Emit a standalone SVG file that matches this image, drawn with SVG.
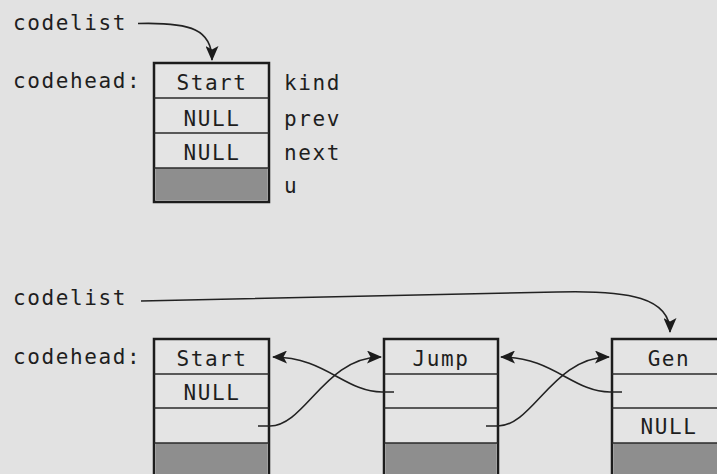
<svg xmlns="http://www.w3.org/2000/svg" width="717" height="474" viewBox="0 0 717 474">
<defs>
<style>
text{font-family:"DejaVu Sans Mono","Liberation Mono",monospace;font-size:21px;letter-spacing:1.6px;fill:#1e1e1e}
.c{text-anchor:middle}
.box{fill:#e4e4e4;stroke:#1c1c1c;stroke-width:2.5}
.row{stroke:#2a2a2a;stroke-width:1.4;fill:none}
.u{fill:#8e8e8e;stroke:none}
.con{fill:none;stroke:#222;stroke-width:1.6}
</style>
<marker id="ah" viewBox="0 0 15 13" refX="14" refY="6.5" markerWidth="15" markerHeight="13" markerUnits="userSpaceOnUse" orient="auto">
<path d="M0,0 L15,6.5 L0,13 L3.5,6.5 Z" fill="#1c1c1c"/>
</marker>
</defs>
<rect width="717" height="474" fill="#e2e2e2"/>

<g id="top-labels">
<text x="13" y="30">codelist</text>
<text x="13" y="88">codehead:</text>
<text x="284" y="90">kind</text>
<text x="284" y="126">prev</text>
<text x="284" y="160">next</text>
<text x="284" y="193">u</text>
</g>

<g id="node-top-start">
<rect class="box" x="154" y="63" width="115" height="139"/>
<rect class="u" x="155.5" y="168" width="112" height="32.5"/>
<path class="row" d="M154,98H269M154,133H269M154,168H269"/>
<text class="c" x="212" y="90">Start</text>
<text class="c" x="212" y="126">NULL</text>
<text class="c" x="212" y="160">NULL</text>
</g>

<g id="bottom-labels">
<text x="13" y="305">codelist</text>
<text x="13" y="364">codehead:</text>
</g>

<g id="node-start">
<rect class="box" x="154" y="339" width="115" height="150"/>
<rect class="u" x="155.5" y="443" width="112" height="45"/>
<path class="row" d="M154,374H269M154,408H269M154,443H269"/>
<text class="c" x="212" y="366">Start</text>
<text class="c" x="212" y="400">NULL</text>
</g>

<g id="node-jump">
<rect class="box" x="384" y="339" width="114" height="150"/>
<rect class="u" x="385.5" y="443" width="111" height="45"/>
<path class="row" d="M384,374H498M384,408H498M384,443H498"/>
<text class="c" x="441" y="366">Jump</text>
</g>

<g id="node-gen">
<rect class="box" x="612" y="339" width="114" height="150"/>
<rect class="u" x="613.5" y="443" width="111" height="45"/>
<path class="row" d="M612,374H726M612,408H726M612,443H726"/>
<text class="c" x="669" y="366">Gen</text>
<text class="c" x="669" y="434">NULL</text>
</g>

<g id="connectors">
<path class="con" marker-end="url(#ah)" d="M138,23.5 C192,22 212,30 212,60"/>
<path class="con" marker-end="url(#ah)" d="M141,301 L557,292 C630,290 670,298 670,332"/>
<path class="con" marker-end="url(#ah)" d="M394,392 L382,392 C345,392 325,357 273,357"/>
<path class="con" marker-end="url(#ah)" d="M258,426 L270,426 C305,426 325,357 381,357"/>
<path class="con" marker-end="url(#ah)" d="M622,392 L610,392 C573,392 553,357 501,357"/>
<path class="con" marker-end="url(#ah)" d="M486,426 L498,426 C533,426 553,357 609,357"/>
</g>
</svg>
